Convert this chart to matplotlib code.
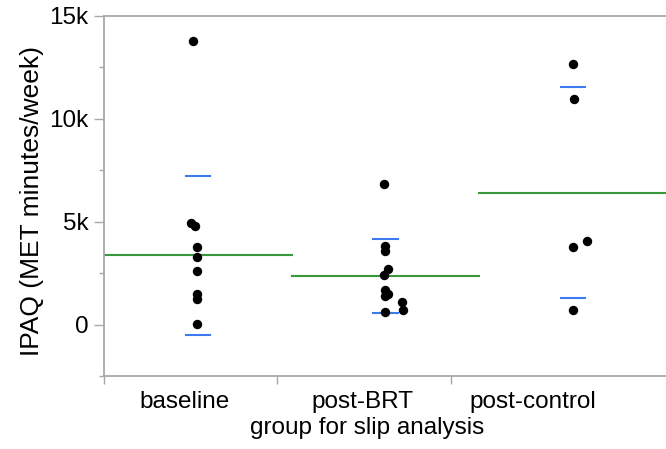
import matplotlib
matplotlib.use("Agg")
import matplotlib.pyplot as plt
from matplotlib.ticker import FixedLocator, FuncFormatter

plt.rcParams["font.family"] = ["Liberation Sans", "DejaVu Sans"]

# values
groups = ["baseline", "post-BRT", "post-control"]
baseline = [13800, 4950, 4770, 3780, 3270, 2580, 1470, 1230, 30]
post_brt = [6830, 3820, 3590, 2710, 2390, 1700, 1500, 1400, 1090, 720, 600]
post_control = [12650, 10950, 3790, 4080, 690]
group_values = [baseline, post_brt, post_control]

# horizontal jitter of each point (fraction of group width)
baseline_jitter = [-0.025, -0.039, -0.016, -0.005, -0.005, -0.005, -0.005, -0.005, -0.005]
post_brt_jitter = [-0.006, -0.003, -0.003, 0.012, -0.006, -0.003, 0.012, -0.003, 0.089, 0.094, -0.003]
post_control_jitter = [0.0, 0.004, 0.0, 0.075, 0.0]
group_jitter = [baseline_jitter, post_brt_jitter, post_control_jitter]

group_mean = [3360, 2360, 6410]
group_sd = [3860, 1815, 5115]

GREEN = "#3a983a"
BLUE = "#3d7bf0"
FRAME = "#a8a8a8"

fig = plt.figure(figsize=(6.66, 4.49), dpi=100)
ax = fig.add_axes([104 / 666, 73 / 449, 563 / 666, 360 / 449])

for i, (vals, jit) in enumerate(zip(group_values, group_jitter)):
    xs = [i + 0.5 + j for j in jit]
    ax.scatter(xs, vals, s=46, color="black", zorder=3, linewidths=0)
    ax.plot([i, i + 1], [group_mean[i]] * 2, color=GREEN, lw=1.5, zorder=2)
    for sgn in (1, -1):
        y = group_mean[i] + sgn * group_sd[i]
        ax.plot([i + 0.5 - 0.064, i + 0.5 + 0.064], [y, y], color=BLUE, lw=1.5, zorder=2)

ax.set_xlim(0, 3)
ax.set_ylim(-2500, 15000)

ax.yaxis.set_major_locator(FixedLocator([0, 5000, 10000, 15000]))
ax.yaxis.set_minor_locator(FixedLocator([-2500, 2500, 7500, 12500]))
ax.yaxis.set_major_formatter(FuncFormatter(lambda v, p: "0" if v == 0 else f"{int(v / 1000)}k"))
ax.tick_params(axis="y", which="major", length=7, width=1, color=FRAME, labelsize=17.5, pad=4)
ax.tick_params(axis="y", which="minor", length=3.5, width=1, color=FRAME)

ax.xaxis.set_major_locator(FixedLocator([0, 0.922, 1.849]))
ax.xaxis.set_major_formatter(FuncFormatter(lambda v, p: ""))
ax.xaxis.set_minor_locator(FixedLocator([0.43, 1.375, 2.285]))
ax.xaxis.set_minor_formatter(FuncFormatter(lambda v, p: groups[p] if p is not None and p < 3 else ""))
ax.tick_params(axis="x", which="major", length=6, width=1, color=FRAME)
ax.tick_params(axis="x", which="minor", length=0, labelsize=17.5, pad=11)

for side in ("left", "bottom", "top"):
    ax.spines[side].set_color(FRAME)
    ax.spines[side].set_linewidth(1.3)
ax.spines["right"].set_visible(False)

ax.set_xlabel("group for slip analysis", fontsize=17.5, labelpad=2)
ax.xaxis.set_label_coords(0.467, -0.115)
ax.set_ylabel("IPAQ (MET minutes/week)", fontsize=19)
ax.yaxis.set_label_coords(-0.107, 0.485)

fig.savefig("out.png", dpi=100)
